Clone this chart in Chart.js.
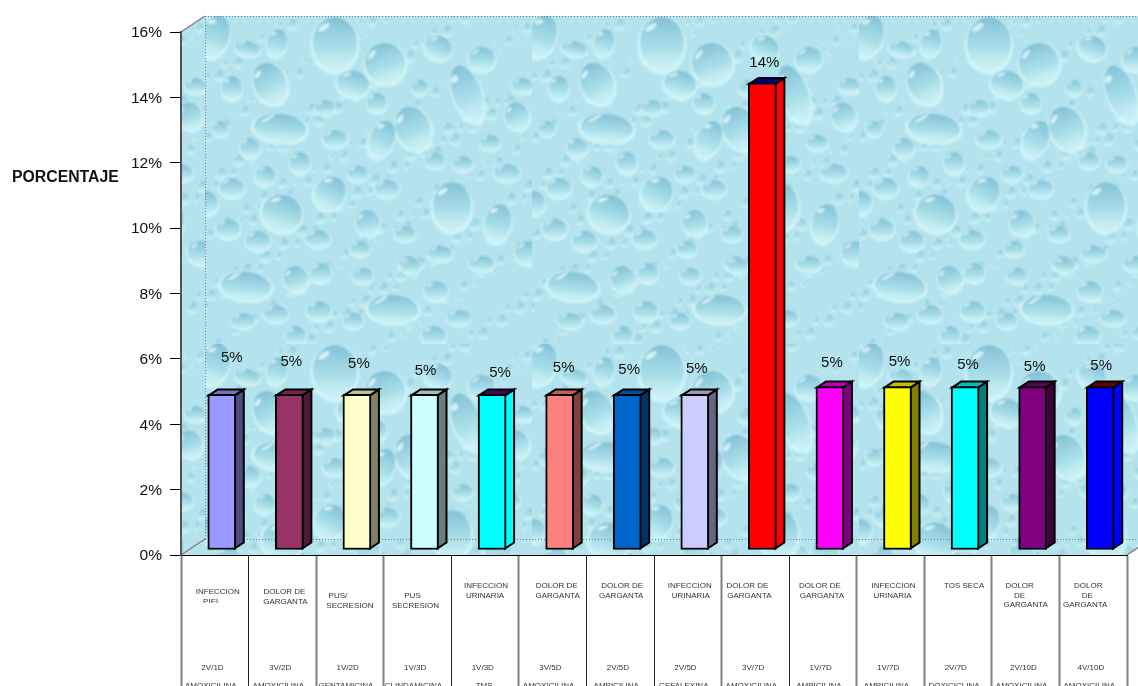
<!DOCTYPE html>
<html>
<head>
<meta charset="utf-8">
<title>Porcentaje</title>
<script src="https://cdn.jsdelivr.net/npm/chart.js@4"></script>
<style>
  html, body { margin: 0; padding: 0; background: #fff; overflow: hidden; }
  canvas { display: block; }
</style>
</head>
<body>
<canvas id="porcentajeChart" width="1138" height="686"></canvas>
<script>
// Chart data
const diagnosticos = [
    ['INFECCION', 'PIEL'], ['DOLOR DE', 'GARGANTA'], ['PUS/', 'SECRESION'], ['PUS', 'SECRESION'],
    ['INFECCION', 'URINARIA'], ['DOLOR DE', 'GARGANTA'], ['DOLOR DE', 'GARGANTA'], ['INFECCION', 'URINARIA'],
    ['DOLOR DE', 'GARGANTA'], ['DOLOR DE', 'GARGANTA'], ['INFECCION', 'URINARIA'], ['TOS SECA'],
    ['DOLOR', 'DE', 'GARGANTA'], ['DOLOR', 'DE', 'GARGANTA']
];
const dosis = ['2V/1D', '3V/2D', '1V/2D', '1V/3D', '1V/3D', '3V/5D', '2V/5D', '2V/5D', '3V/7D', '1V/7D', '1V/7D', '2V/7D', '2V/10D', '4V/10D'];
const medicamentos = ['AMOXICILINA', 'AMOXICILINA', 'GENTAMICINA', 'CLINDAMICINA', 'TMS', 'AMOXICILINA', 'AMPICILINA', 'CEFALEXINA', 'AMOXICILINA', 'AMPICILINA', 'AMPICILINA', 'DOXICICLINA', 'AMOXICILINA', 'AMOXICILINA'];
const porcentajes = [4.76, 4.76, 4.76, 4.76, 4.76, 4.76, 4.76, 4.76, 14.29, 5, 5, 5, 5, 5];

// Bar faces
const frontColors = ['#9999ff', '#993366', '#ffffcc', '#ccffff', '#00ffff', '#ff8080', '#0066cc', '#ccccff', '#ff0000', '#ff00ff', '#ffff00', '#00ffff', '#800080', '#0000ff'];
const sideColors = ['#4d4d80', '#4d1a33', '#808066', '#668080', '#00ffff', '#804040', '#003366', '#666680', '#ff0000', '#800080', '#808000', '#008080', '#400040', '#0000ff'];
const topColors = ['#7373bf', '#73264d', '#bfbf99', '#99bfbf', '#40085a', '#bf6060', '#004d99', '#9999bf', '#000080', '#bf00bf', '#bfbf00', '#00bfbf', '#600060', '#660000'];

// 3D box geometry
const BOX = { shiftX: 7, shiftY: -5, depthX: 9, depthY: -6 };
const WALL = { left: 205, top: 16, bottom: 539, right: 1151, depthX: 24, depthY: -16 };

// Label placement around the columns: [dx, dy from bar top]
const valueNudge = [[10, -37], [2, -33], [2, -31], [1, -24], [8, -22], [4, -27], [2, -25], [2, -26], [2, -20], [2, -24], [2, -25], [3, -22], [2, -20], [1, -21]];
// [center x from column center per line, first line y]
const diagLayout = [
    [[3, -3], 592], [[2, 3], 592], [[-12, 0], 596], [[-5, -2], 596], [[1, 0], 586], [[4, 5], 586], [[2, 1], 586],
    [[2, 3], 586], [[-8, -6], 586], [[-3, -1], 586], [[3, 2], 586], [[6], 586], [[-6, -6, 0], 586], [[-5, -6, -8], 586]
];

// Droplets of the wall texture: x, y, rx, ry, tilt
const drops = [
    [130, 27, 22, 26, 0], [180, 47, 20, 20, -0.3], [65, 67, 16, 21, -0.4], [148, 68, 16, 13, 0.2], [262, 77, 14, 29, -0.35],
    [75, 112, 26, 14, 0.1], [208, 112, 17, 22, -0.4], [177, 123, 12, 19, 0.4], [77, 197, 20, 18, 0.3], [125, 177, 15, 17, 0.5],
    [247, 190, 19, 24, 0], [293, 207, 13, 19, 0.2], [233, 32, 14, 12, 0.4], [277, 43, 13, 12, 0], [72, 27, 10, 14, 0.2],
    [42, 33, 12, 8, 0.2], [27, 72, 10, 12, 0], [10, 20, 14, 21, 0.3], [120, 92, 10, 8, 0], [172, 87, 10, 10, 0],
    [215, 72, 8, 8, 0], [317, 70, 10, 8, 0], [312, 100, 12, 14, -0.3], [15, 113, 8, 8, 0], [45, 132, 10, 10, 0],
    [130, 123, 12, 9, 0], [285, 127, 10, 8, 0], [95, 147, 10, 11, 0], [230, 145, 10, 8, 0], [258, 148, 10, 8, 0],
    [302, 157, 13, 9, 0], [153, 158, 10, 8, 0], [60, 160, 10, 10, 0.3], [27, 172, 12, 10, 0], [182, 173, 12, 9, 0],
    [1, 187, 12, 12, 0], [163, 207, 12, 13, -0.2], [23, 213, 12, 10, 0], [53, 225, 12, 10, 0], [113, 223, 12, 9, 0],
    [200, 218, 10, 8, 0], [155, 233, 10, 8, 0], [235, 238, 12, 8, 0], [323, 237, 13, 12, 0], [203, 248, 10, 8, 0],
    [277, 248, 12, 8, 0], [41, 270, 25, 14, 0.1], [91, 263, 12, 13, -0.3], [116, 257, 10, 10, 0], [188, 293, 25, 14, 0.05],
    [114, 295, 12, 10, 0], [71, 298, 12, 9, 0], [38, 305, 12, 8, 0], [91, 320, 10, 10, 0], [148, 305, 10, 8, 0],
    [229, 320, 12, 10, 0], [231, 275, 12, 10, 0], [254, 302, 12, 8, 0], [158, 260, 10, 8, 0], [206, 250, 10, 8, 0]
];

const TILE_W = 327, TILE_H = 328;

function paintDrop(g, x, y, rx, ry, tilt) {
    g.save();
    g.translate(x, y);
    g.rotate(tilt);
    // pale rim under the drop
    g.fillStyle = 'rgba(216, 248, 248, 0.75)';
    g.beginPath();
    g.ellipse(0, ry * 0.1, rx * 1.12, ry * 1.12, 0, 0, Math.PI * 2);
    g.fill();
    // dark at the crown, fading into the wall lower down
    const body = g.createLinearGradient(0, -ry, 0, ry);
    body.addColorStop(0, 'rgba(125, 190, 212, 0.95)');
    body.addColorStop(0.6, 'rgba(160, 218, 230, 0.8)');
    body.addColorStop(1, 'rgba(196, 238, 243, 0.4)');
    g.fillStyle = body;
    g.beginPath();
    g.ellipse(0, 0, rx, ry, 0, 0, Math.PI * 2);
    g.fill();
    // glint on the upper left
    g.fillStyle = 'rgba(235, 251, 252, 0.75)';
    g.beginPath();
    g.ellipse(-rx * 0.5, -ry * 0.6, Math.max(1.5, rx * 0.3), Math.max(1, ry * 0.11), -0.6, 0, Math.PI * 2);
    g.fill();
    g.restore();
}

function buildTexture() {
    const raw = document.createElement('canvas');
    raw.width = TILE_W;
    raw.height = TILE_H;
    const g = raw.getContext('2d');
    g.fillStyle = '#b4e3ed';
    g.fillRect(0, 0, TILE_W, TILE_H);
    // fine beads between the big drops
    g.globalAlpha = 0.85;
    for (let i = 0; i < 240; i++) {
        const x = (i * 0.61803 % 1) * TILE_W;
        const y = (i * 0.75488 % 1) * TILE_H;
        paintDrop(g, x, y, 2.5 + i % 4, 2.5 + i % 4, 0);
    }
    g.globalAlpha = 1;
    drops.forEach(([x, y, rx, ry, tilt]) => paintDrop(g, x, y, rx, ry, tilt));

    // soften everything a touch
    const tile = document.createElement('canvas');
    tile.width = TILE_W;
    tile.height = TILE_H;
    const t = tile.getContext('2d');
    t.drawImage(raw, 0, 0);
    t.filter = 'blur(0.8px)';
    t.drawImage(raw, 0, 0);
    return tile;
}

const textureTile = buildTexture();

// Wall, floor and side panel behind the columns
const wallPlugin = {
    id: 'wall',
    beforeDraw(chart) {
        const ctx = chart.ctx;
        const area = chart.chartArea;
        ctx.save();
        ctx.beginPath();
        ctx.moveTo(area.left, area.bottom);
        ctx.lineTo(area.right, area.bottom);
        ctx.lineTo(area.right + WALL.depthX, area.bottom + WALL.depthY);
        ctx.lineTo(WALL.right, WALL.top);
        ctx.lineTo(WALL.left, WALL.top);
        ctx.lineTo(area.left, area.top);
        ctx.closePath();
        const pattern = ctx.createPattern(textureTile, 'repeat');
        pattern.setTransform(new DOMMatrix().translate(WALL.left, WALL.top));
        ctx.fillStyle = pattern;
        ctx.fill();

        // dotted edges of the back wall
        ctx.strokeStyle = '#7d7d7d';
        ctx.lineWidth = 1;
        ctx.setLineDash([1, 2]);
        ctx.beginPath();
        ctx.moveTo(WALL.left + 0.5, WALL.top);
        ctx.lineTo(WALL.left + 0.5, WALL.bottom);
        ctx.moveTo(WALL.left, WALL.bottom + 0.5);
        ctx.lineTo(WALL.right, WALL.bottom + 0.5);
        ctx.moveTo(WALL.left, WALL.top + 0.5);
        ctx.lineTo(WALL.right, WALL.top + 0.5);
        ctx.stroke();

        // solid diagonals to the front frame
        ctx.setLineDash([]);
        ctx.strokeStyle = '#808080';
        ctx.lineWidth = 1.5;
        ctx.beginPath();
        ctx.moveTo(area.left, area.top);
        ctx.lineTo(WALL.left, WALL.top);
        ctx.moveTo(area.left, area.bottom);
        ctx.lineTo(WALL.left, WALL.bottom);
        ctx.moveTo(area.right, area.bottom);
        ctx.lineTo(area.right + WALL.depthX, area.bottom + WALL.depthY);
        ctx.stroke();
        ctx.restore();
    }
};

// Moves the columns onto the floor and adds their top and side faces
const boxPlugin = {
    id: 'box3d',
    beforeDatasetsDraw(chart) {
        const ctx = chart.ctx;
        ctx.save();
        ctx.translate(BOX.shiftX, BOX.shiftY);
        ctx.lineWidth = 2;
        ctx.lineJoin = 'miter';
        ctx.strokeStyle = '#000';
        chart.getDatasetMeta(0).data.forEach((bar, i) => {
            const right = bar.x + bar.width / 2 - 1;
            const left = bar.x - bar.width / 2 + 1;
            const top = bar.y + 1;
            const base = bar.base - 1;
            ctx.fillStyle = sideColors[i];
            ctx.beginPath();
            ctx.moveTo(right, top);
            ctx.lineTo(right + BOX.depthX, top + BOX.depthY);
            ctx.lineTo(right + BOX.depthX, base + BOX.depthY);
            ctx.lineTo(right, base);
            ctx.closePath();
            ctx.fill();
            ctx.stroke();
            ctx.fillStyle = topColors[i];
            ctx.beginPath();
            ctx.moveTo(left, top);
            ctx.lineTo(left + BOX.depthX, top + BOX.depthY);
            ctx.lineTo(right + BOX.depthX, top + BOX.depthY);
            ctx.lineTo(right, top);
            ctx.closePath();
            ctx.fill();
            ctx.stroke();
        });
    },
    afterDatasetsDraw(chart) {
        chart.ctx.restore();
    }
};

// Value labels, axis labels and the text rows under each column
const textPlugin = {
    id: 'textRows',
    afterDraw(chart) {
        const ctx = chart.ctx;
        const x = chart.scales.x;
        const y = chart.scales.y;
        ctx.save();
        ctx.textBaseline = 'middle';
        ctx.textAlign = 'right';

        ctx.fillStyle = '#111';
        ctx.font = '15.5px "Liberation Sans", Arial, sans-serif';
        y.ticks.forEach(t => {
            ctx.fillText(t.label, 162, y.getPixelForValue(t.value) + 1);
        });

        ctx.textAlign = 'center';
        ctx.font = '15px "Liberation Sans", Arial, sans-serif';
        chart.getDatasetMeta(0).data.forEach((bar, i) => {
            const [dx, dy] = valueNudge[i];
            ctx.fillText(Math.round(porcentajes[i]) + '%', bar.x + BOX.shiftX + dx, bar.y + BOX.shiftY + dy);
        });

        ctx.font = 'bold 15.8px "Liberation Sans", Arial, sans-serif';
        ctx.textAlign = 'left';
        ctx.fillText('PORCENTAJE', 12, 178);
        ctx.textAlign = 'center';

        ctx.fillStyle = '#333';
        ctx.font = '8px "Liberation Sans", Arial, sans-serif';
        diagnosticos.forEach((lines, i) => {
            const cx = x.getPixelForValue(i);
            const [offsets, firstY] = diagLayout[i];
            ctx.save();
            // the first cell cuts off the foot of its second line
            if (i === 0) {
                ctx.beginPath();
                ctx.rect(cx - 33, 556, 66, 47);
                ctx.clip();
            }
            lines.forEach((line, n) => {
                ctx.fillText(line, cx + offsets[n], firstY + n * 9.6);
            });
            ctx.restore();
            ctx.fillText(dosis[i], cx - 2.3, 668);
            ctx.fillText(medicamentos[i], cx - (medicamentos[i] === 'TMS' ? 1 : 4), 686);
        });
        ctx.restore();
    }
};

const tickShades = ['#808080', '#222', '#808080', '#808080', '#222', '#808080', '#222', '#222', '#808080', '#222', '#808080', '#808080', '#808080', '#808080', '#222'];

new Chart(document.getElementById('porcentajeChart').getContext('2d'), {
    type: 'bar',
    data: {
        labels: dosis,
        datasets: [{
            label: 'PORCENTAJE',
            data: porcentajes,
            backgroundColor: frontColors,
            borderColor: '#000',
            borderWidth: 2,
            borderSkipped: false,
            barThickness: 28,
            clip: false
        }]
    },
    options: {
        responsive: false,
        animation: false,
        layout: { padding: { top: 32, right: 11, left: 0, bottom: 0 } },
        scales: {
            x: {
                grid: {
                    offset: true,
                    drawOnChartArea: false,
                    tickLength: 131,
                    tickColor: c => tickShades[c.index] || '#808080',
                    tickWidth: c => tickShades[c.index] === '#222' ? 1 : 2
                },
                border: { color: '#000', width: 1 },
                ticks: { display: false }
            },
            y: {
                min: 0,
                max: 16,
                afterFit: s => { s.width = 181; },
                grid: { drawOnChartArea: false, tickLength: 11, tickColor: '#000' },
                border: { color: '#555', width: 2 },
                ticks: {
                    stepSize: 2,
                    display: false,
                    callback: v => v + '%'
                }
            }
        },
        plugins: {
            legend: { display: false },
            tooltip: { enabled: false }
        }
    },
    plugins: [wallPlugin, boxPlugin, textPlugin]
});
</script>
</body>
</html>
